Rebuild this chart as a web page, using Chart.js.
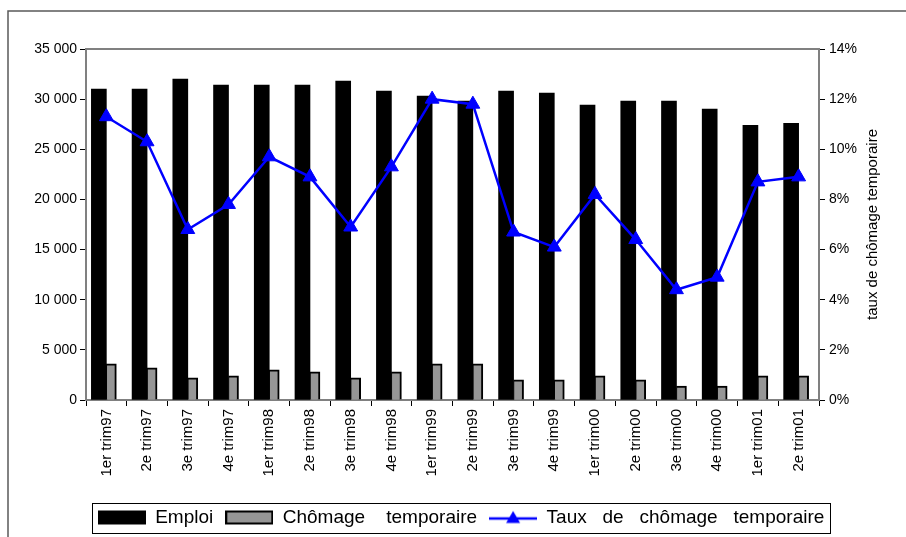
<!DOCTYPE html>
<html>
<head>
<meta charset="utf-8">
<script src="https://cdn.jsdelivr.net/npm/chart.js@4/dist/chart.umd.min.js"></script>
<style>
  html, body { margin: 0; padding: 0; background: #fff; }
  canvas { display: block; }
</style>
</head>
<body>
<canvas id="chart" width="906" height="537"></canvas>
<script>
// Trimestres
const quarters = [
  '1er trim97', '2e trim97', '3e trim97', '4e trim97',
  '1er trim98', '2e trim98', '3e trim98', '4e trim98',
  '1er trim99', '2e trim99', '3e trim99', '4e trim99',
  '1er trim00', '2e trim00', '3e trim00', '4e trim00',
  '1er trim01', '2e trim01'
];

// Emploi (axe de gauche)
const emploi = [
  31000, 31000, 32000, 31400, 31400, 31400, 31800, 30800, 30300,
  29800, 30800, 30600, 29400, 29800, 29800, 29000, 27400, 27600
];

// Chômage temporaire (axe de gauche)
const chomageTemporaire = [
  3600, 3200, 2200, 2400, 3000, 2800, 2200, 2800, 3600,
  3600, 2000, 2000, 2400, 2000, 1400, 1400, 2400, 2400
];

// Taux de chômage temporaire, en % (axe de droite)
const tauxChomageTemporaire = [
  11.3, 10.3, 6.8, 7.8, 9.7, 8.9, 6.9, 9.3, 12.0,
  11.8, 6.7, 6.1, 8.2, 6.4, 4.4, 4.9, 8.7, 8.9
];

// Libellés de la légende et titre de l'axe de droite
const legendLabels = ['Emploi', 'Chômage    temporaire', 'Taux   de   chômage   temporaire'];
const rateAxisTitle = 'taux de chômage temporaire';

const FONT = "'Liberation Sans', Arial, sans-serif";
const BLUE = '#0000ff';
const GREY_FILL = '#969696';
const AXIS_GREY = '#808080';

Chart.defaults.font.family = FONT;
Chart.defaults.color = '#000';

const PAD_LEFT = 16;
const PAD_RIGHT = 0;
const PAD_TOP = 49;
const PLOT_LEFT = 86;
const PLOT_RIGHT = 819;
const X_AXIS_HEIGHT = 96;

// Pastilles de légende
function swatch(draw) {
  const c = document.createElement('canvas');
  c.width = 48; c.height = 16;
  draw(c.getContext('2d'));
  return c;
}
const swatchEmploi = swatch(ctx => {
  ctx.fillStyle = '#000';
  ctx.fillRect(0, 1, 48, 14);
});
const swatchChomage = swatch(ctx => {
  ctx.fillStyle = GREY_FILL;
  ctx.fillRect(0, 1, 48, 14);
  ctx.strokeStyle = '#000';
  ctx.lineWidth = 2;
  ctx.strokeRect(1, 2, 46, 12);
});
const swatchTaux = swatch(ctx => {
  ctx.strokeStyle = BLUE;
  ctx.lineWidth = 2.5;
  ctx.beginPath();
  ctx.moveTo(0, 9); ctx.lineTo(48, 9);
  ctx.stroke();
  ctx.fillStyle = BLUE;
  ctx.beginPath();
  ctx.moveTo(24, 1.5);
  ctx.lineTo(31, 13.5);
  ctx.lineTo(17, 13.5);
  ctx.closePath();
  ctx.fill();
});
const swatches = [swatchEmploi, swatchChomage, swatchTaux];

const decor = {
  id: 'decor',
  beforeDraw(chart) {
    const ctx = chart.ctx;
    ctx.save();
    ctx.fillStyle = '#fff';
    ctx.fillRect(0, 0, chart.width, chart.height);
    // cadre extérieur
    ctx.strokeStyle = '#5a5a5a';
    ctx.lineWidth = 1.5;
    ctx.beginPath();
    ctx.moveTo(8, chart.height);
    ctx.lineTo(8, 11);
    ctx.lineTo(chart.width, 11);
    ctx.stroke();
    ctx.restore();
  },
  beforeDatasetsDraw(chart) {
    const {ctx, chartArea: a} = chart;
    ctx.save();
    ctx.strokeStyle = AXIS_GREY;
    ctx.lineWidth = 2;
    ctx.beginPath();
    ctx.moveTo(a.left, a.top);
    ctx.lineTo(a.right, a.top);
    ctx.stroke();
    ctx.restore();
  },
  afterDraw(chart) {
    const ctx = chart.ctx;
    const a = chart.chartArea;
    const rate = chart.scales.rate;
    ctx.save();
    // titre de l'axe de droite
    ctx.fillStyle = '#000';
    ctx.font = '15px ' + FONT;
    ctx.textAlign = 'center';
    ctx.textBaseline = 'middle';
    ctx.translate(rate.left + 54, (a.top + a.bottom) / 2);
    ctx.rotate(-Math.PI / 2);
    ctx.fillText(rateAxisTitle, 0, 0);
    ctx.restore();

    // cadre de la légende
    const boxes = chart.legend.legendHitBoxes;
    if (boxes && boxes.length) {
      const left = Math.min(...boxes.map(b => b.left)) - 6;
      const right = Math.max(...boxes.map(b => b.left + b.width)) + 5;
      const top = boxes[0].top - 5;
      const bottom = boxes[0].top + boxes[0].height + 6;
      ctx.save();
      ctx.strokeStyle = '#000';
      ctx.lineWidth = 1;
      ctx.strokeRect(Math.round(left) + 0.5, Math.round(top) + 0.5,
        Math.round(right - left), Math.round(bottom - top));
      ctx.restore();
    }
  }
};

new Chart(document.getElementById('chart'), {
  type: 'bar',
  data: {
    labels: quarters,
    datasets: [
      {
        type: 'line',
        label: 'Taux de chômage temporaire',
        data: tauxChomageTemporaire,
        yAxisID: 'rate',
        order: 0,
        borderColor: BLUE,
        backgroundColor: BLUE,
        borderWidth: 2.5,
        tension: 0,
        pointStyle: 'triangle',
        pointRadius: 8,
        pointBorderWidth: 1,
        pointBackgroundColor: BLUE,
        pointBorderColor: BLUE
      },
      {
        label: 'Emploi',
        data: emploi,
        yAxisID: 'y',
        order: 1,
        backgroundColor: '#000',
        borderWidth: 0,
        barThickness: 15
      },
      {
        label: 'Chômage temporaire',
        data: chomageTemporaire,
        yAxisID: 'y',
        order: 1,
        backgroundColor: GREY_FILL,
        borderColor: '#000',
        borderWidth: {top: 2, right: 2, left: 1, bottom: 0},
        borderSkipped: 'start',
        barThickness: 10
      }
    ]
  },
  options: {
    responsive: false,
    animation: false,
    devicePixelRatio: 1,
    layout: { padding: { left: PAD_LEFT, right: PAD_RIGHT, top: PAD_TOP, bottom: 0 } },
    plugins: {
      tooltip: { enabled: false },
      legend: {
        position: 'bottom',
        onClick: null,
        labels: {
          usePointStyle: true,
          pointStyleWidth: 48,
          padding: 12,
          color: '#000',
          font: { size: 19, family: FONT },
          generateLabels() {
            return legendLabels.map((text, i) => ({
              text,
              pointStyle: swatches[i],
              fillStyle: 'transparent',
              strokeStyle: 'transparent',
              lineWidth: 0,
              hidden: false,
              datasetIndex: i
            }));
          }
        }
      }
    },
    scales: {
      x: {
        offset: true,
        border: { display: true, color: AXIS_GREY, width: 2 },
        grid: {
          display: true,
          offset: true,
          drawOnChartArea: false,
          drawTicks: true,
          tickLength: 6,
          color: '#000'
        },
        ticks: {
          autoSkip: false,
          minRotation: 90,
          maxRotation: 90,
          padding: 3,
          color: '#000',
          font: { size: 15, family: FONT }
        },
        afterFit(scale) { scale.height = X_AXIS_HEIGHT; }
      },
      y: {
        position: 'left',
        min: 0,
        max: 35000,
        border: { display: true, color: AXIS_GREY, width: 2 },
        grid: {
          display: true,
          drawOnChartArea: false,
          drawTicks: true,
          tickLength: 6,
          color: '#000'
        },
        ticks: {
          stepSize: 5000,
          padding: 3,
          color: '#000',
          font: { size: 14, family: FONT },
          callback: v => String(v).replace(/\B(?=(\d{3})+(?!\d))/g, '\u00a0')
        },
        afterFit(scale) { scale.width = PLOT_LEFT - PAD_LEFT; }
      },
      rate: {
        position: 'right',
        min: 0,
        max: 14,
        border: { display: true, color: AXIS_GREY, width: 2 },
        grid: {
          display: true,
          drawOnChartArea: false,
          drawTicks: true,
          tickLength: 6,
          color: '#000'
        },
        ticks: {
          stepSize: 2,
          padding: 4,
          color: '#000',
          font: { size: 14, family: FONT },
          callback: v => v + '%'
        },
        afterFit(scale) { scale.width = 906 - PAD_RIGHT - PLOT_RIGHT; }
      }
    }
  },
  plugins: [decor]
});
</script>
</body>
</html>
